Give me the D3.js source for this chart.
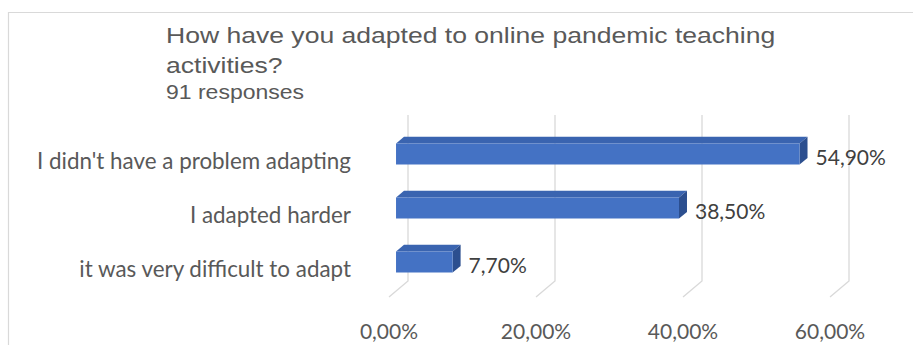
<!DOCTYPE html>
<html>
<head>
<meta charset="utf-8">
<script src="https://cdn.jsdelivr.net/npm/d3@7"></script>
<style>
  html, body { margin: 0; padding: 0; background: #fff; }
  svg { display: block; }
</style>
</head>
<body>
<svg id="chart" width="913" height="345"></svg>
<script>
// Survey answers and their shares (percent)
const categories = [
  "I didn't have a problem adapting",
  "I adapted harder",
  "it was very difficult to adapt"
];
const values = [54.9, 38.5, 7.7];
const valueLabels = ["54,90%", "38,50%", "7,70%"];
const ticks = [0, 20, 40, 60];
const tickLabels = ["0,00%", "20,00%", "40,00%", "60,00%"];
const titleLines = ["How have you adapted to online pandemic teaching", "activities?"];
const subtitle = "91 responses";

const W = 913, H = 345;
const svg = d3.select("#chart");

// frame
svg.append("path")
  .attr("d", `M8.5,${H} V12.5 H${W}`)
  .attr("fill", "none")
  .attr("stroke", "#d9d9d9")
  .attr("stroke-width", 1.2);

// title block (slightly widened lettering)
const title = svg.append("g")
  .attr("transform", "translate(166,0) scale(1.18,1)")
  .attr("fill", "#595959")
  .attr("font-family", "'Liberation Sans', Arial, sans-serif");
title.selectAll("text.t").data(titleLines).join("text")
  .attr("class", "t")
  .attr("x", 0)
  .attr("y", (d, i) => 43 + i * 30)
  .attr("font-size", 22.5)
  .text(d => d);
title.append("text")
  .attr("x", 0).attr("y", 99)
  .attr("font-size", 19.5)
  .text(subtitle);

// 3D projection: value along x, category along y, depth z in [0,1] (0 = front floor edge)
const x = d3.scaleLinear().domain([0, 60]).range([389, 830]);
const y = d3.scaleBand().domain(categories).range([133, 295]).paddingInner(0.61).paddingOuter(0.305);
const depthDX = 19, depthDY = -16;
const floorY = 297, wallTop = 115;
const P = (v, yy, z) => [x(v) + depthDX * z, yy + depthDY * z];

// gridlines on back wall plus floor segments
const grid = svg.append("g").attr("stroke", "#d9d9d9").attr("stroke-width", 1.3).attr("fill", "none");
grid.selectAll("path").data(ticks).join("path")
  .attr("d", t => {
    const back = P(t, floorY, 1);
    const front = P(t, floorY, 0);
    return `M${back[0]},${wallTop} L${back[0]},${back[1]} L${front[0]},${front[1]}`;
  });

// tick labels along front floor edge
const font = "Lato, 'Open Sans', sans-serif";
svg.append("g").selectAll("text").data(ticks).join("text")
  .attr("x", t => x(t))
  .attr("y", 330)
  .attr("text-anchor", "middle")
  .attr("dominant-baseline", "central")
  .attr("font-family", font)
  .attr("font-size", 21)
  .attr("fill", "#595959")
  .text((t, i) => tickLabels[i]);

// category labels
svg.append("g").selectAll("text").data(categories).join("text")
  .attr("x", 351)
  .attr("y", c => y(c) + y.bandwidth() / 2)
  .attr("text-anchor", "end")
  .attr("dominant-baseline", "central")
  .attr("font-family", font)
  .attr("font-size", 22.4)
  .attr("fill", "#595959")
  .text(c => c);

// bars as boxes between depth z0 and z1
const z0 = 0.37, z1 = 0.79;
const bars = svg.append("g").selectAll("g").data(categories.map((c, i) => ({ c, v: values[i], label: valueLabels[i] })))
  .join("g");

const poly = pts => "M" + pts.map(p => p.join(",")).join("L") + "Z";

bars.each(function (d) {
  const g = d3.select(this);
  const top = y(d.c), bot = y(d.c) + y.bandwidth();
  const fTL = P(0, top, z0), fTR = P(d.v, top, z0), fBR = P(d.v, bot, z0), fBL = P(0, bot, z0);
  const bTL = P(0, top, z1), bTR = P(d.v, top, z1), bBR = P(d.v, bot, z1);
  // top face
  g.append("path").attr("d", poly([fTL, fTR, bTR, bTL])).attr("fill", "#3a64b0");
  // right face
  g.append("path").attr("d", poly([fTR, bTR, bBR, fBR])).attr("fill", "#2c4f8f");
  // front face
  g.append("path").attr("d", poly([fTL, fTR, fBR, fBL])).attr("fill", "#4472c4");
  // value label
  g.append("text")
    .attr("x", bTR[0] + 8)
    .attr("y", (top + bot) / 2 - 4)
    .attr("dominant-baseline", "central")
    .attr("font-family", font)
    .attr("font-size", 21)
    .attr("fill", "#404040")
    .text(d.label);
});
</script>
</body>
</html>
